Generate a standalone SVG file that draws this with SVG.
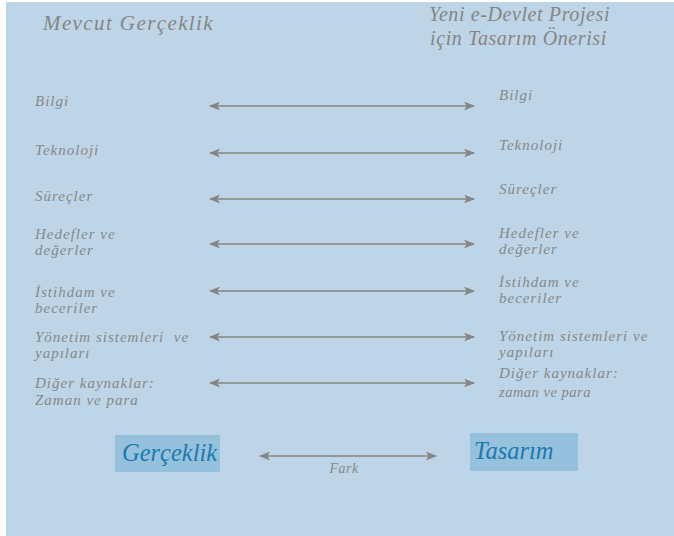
<svg xmlns="http://www.w3.org/2000/svg" width="674" height="536" viewBox="0 0 674 536">
<defs>
<style>
.lbl{font-family:"Liberation Serif","Times New Roman",serif;font-style:italic;fill:#878787;font-size:15px;letter-spacing:1px}
.ttl{font-family:"Liberation Serif","Times New Roman",serif;font-style:italic;fill:#858585;font-size:20px;letter-spacing:0.6px}
.big{font-family:"Liberation Serif","Times New Roman",serif;font-style:italic;fill:#1A7AAD;font-size:24.5px}
.box{fill:#96C1DD}
.conn line{stroke:#858585;stroke-width:1.6;marker-start:url(#ah);marker-end:url(#ah)}
</style>
<marker id="ah" viewBox="0 0 10 8" refX="9" refY="4" markerWidth="7" markerHeight="5.6" orient="auto-start-reverse" markerUnits="strokeWidth">
<path d="M0,0 L10,4 L0,8 L2.5,4 Z" fill="#858585"/>
</marker>
</defs>
<rect x="6" y="2" width="668" height="534" fill="#BDD5E7"/>
<g id="titles">
<text class="ttl" x="43" y="30" style="font-size:21px;letter-spacing:1.4px">Mevcut Gerçeklik</text>
<text class="ttl" x="429" y="21">Yeni e-Devlet Projesi</text>
<text class="ttl" x="430" y="45">için Tasarım Önerisi</text>
</g>
<g id="left-labels">
<text class="lbl" x="35" y="106">Bilgi</text>
<text class="lbl" x="35" y="155">Teknoloji</text>
<text class="lbl" x="35" y="201">Süreçler</text>
<text class="lbl" x="35" y="239">Hedefler ve</text>
<text class="lbl" x="35" y="255">değerler</text>
<text class="lbl" x="35" y="297">İstihdam ve</text>
<text class="lbl" x="35" y="313">beceriler</text>
<text class="lbl" x="35" y="342" style="white-space:pre">Yönetim sistemleri  ve</text>
<text class="lbl" x="35" y="358">yapıları</text>
<text class="lbl" x="35" y="388">Diğer kaynaklar:</text>
<text class="lbl" x="35" y="405">Zaman ve para</text>
</g>
<g id="right-labels">
<text class="lbl" x="499" y="100">Bilgi</text>
<text class="lbl" x="499" y="150">Teknoloji</text>
<text class="lbl" x="499" y="194">Süreçler</text>
<text class="lbl" x="499" y="238">Hedefler ve</text>
<text class="lbl" x="499" y="254">değerler</text>
<text class="lbl" x="499" y="287">İstihdam ve</text>
<text class="lbl" x="499" y="303">beceriler</text>
<text class="lbl" x="499" y="341">Yönetim sistemleri ve</text>
<text class="lbl" x="499" y="357">yapıları</text>
<text class="lbl" x="499" y="378">Diğer kaynaklar:</text>
<text class="lbl" x="499" y="397" style="font-size:14.5px;letter-spacing:0.5px">zaman ve para</text>
</g>
<g id="node-gerceklik">
<rect class="box" x="115" y="435" width="105" height="37"/>
<text class="big" x="122" y="461">Gerçeklik</text>
</g>
<g id="node-tasarim">
<rect class="box" x="470" y="433" width="108" height="38"/>
<text class="big" x="474" y="459">Tasarım</text>
</g>
<g id="connectors" class="conn">
<line x1="210" y1="106" x2="474" y2="106"/>
<line x1="210" y1="153" x2="474" y2="153"/>
<line x1="210" y1="199" x2="474" y2="199"/>
<line x1="210" y1="244" x2="474" y2="244"/>
<line x1="210" y1="291" x2="474" y2="291"/>
<line x1="210" y1="337" x2="474" y2="337"/>
<line x1="210" y1="383" x2="474" y2="383"/>
<line x1="260" y1="456" x2="436" y2="456"/>
</g>
<text class="lbl" x="344" y="473" text-anchor="middle" style="font-size:14px;letter-spacing:0.5px">Fark</text>
</svg>
